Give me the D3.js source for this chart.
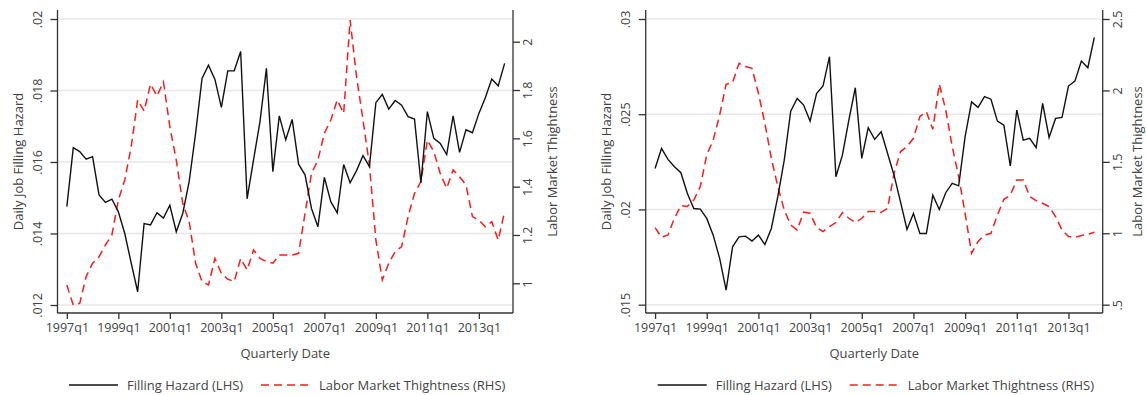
<!DOCTYPE html>
<html>
<head>
<meta charset="utf-8">
<script src="https://cdn.jsdelivr.net/npm/d3@7"></script>
<style>
  body { margin: 0; background: #fff; }
  svg text { font-family: "Open Sans", sans-serif; fill: #444; }
</style>
</head>
<body>
<svg id="chart" width="1146" height="395"></svg>
<script>
// quarter index 0 = 1997q1 ... 68 = 2014q1
const dateTicks = [0, 8, 16, 24, 32, 40, 48, 56, 64];
const dateLabels = ["1997q1", "1999q1", "2001q1", "2003q1", "2005q1", "2007q1", "2009q1", "2011q1", "2013q1"];

// left panel
const hazardA = [0.01475, 0.0164, 0.01629, 0.01608, 0.01615, 0.01508, 0.01487, 0.01496, 0.01461, 0.0140,
  0.01317, 0.01237, 0.01428, 0.01424, 0.01458, 0.01443, 0.01479, 0.01405, 0.01456, 0.01545,
  0.0168, 0.01834, 0.01871, 0.01831, 0.01753, 0.01855, 0.01855, 0.01909, 0.01497, 0.01606,
  0.01713, 0.01862, 0.01573, 0.01729, 0.01662, 0.01719, 0.01594, 0.01564, 0.0147, 0.01419,
  0.01557, 0.01489, 0.01458, 0.01593, 0.01542, 0.01576, 0.01618, 0.01587, 0.01766, 0.01789,
  0.01748, 0.01772, 0.01759, 0.01727, 0.0172, 0.01542, 0.01741, 0.01666, 0.01652, 0.01621,
  0.01729, 0.01627, 0.0169, 0.01682, 0.01736, 0.0178, 0.01832, 0.01813, 0.01876];
const tightA = [0.993, 0.91, 0.917, 1.028, 1.083, 1.11, 1.159, 1.2, 1.345, 1.428,
  1.566, 1.759, 1.713, 1.825, 1.775, 1.834, 1.648, 1.51, 1.331, 1.255,
  1.083, 1.007, 0.993, 1.103, 1.041, 1.017, 1.007, 1.103, 1.055, 1.138,
  1.103, 1.09, 1.083, 1.117, 1.117, 1.117, 1.124, 1.29, 1.455, 1.51,
  1.621, 1.676, 1.759, 1.703, 2.09, 1.855, 1.676, 1.49, 1.179, 1.014,
  1.083, 1.131, 1.152, 1.276, 1.372, 1.421, 1.593, 1.545, 1.455, 1.393,
  1.469, 1.441, 1.407, 1.276, 1.262, 1.234, 1.255, 1.179, 1.297];
const lhsTicksA = [0.012, 0.014, 0.016, 0.018, 0.02];
const rhsTicksA = [1, 1.2, 1.4, 1.6, 1.8, 2];

// right panel
const hazardB = [0.02215, 0.0232, 0.02263, 0.02224, 0.02193, 0.02084, 0.02005, 0.02002, 0.01953, 0.01865,
  0.01743, 0.01576, 0.01804, 0.01856, 0.0186, 0.01834, 0.01865, 0.01816, 0.019, 0.02067,
  0.02259, 0.02516, 0.02583, 0.02548, 0.02464, 0.02609, 0.02648, 0.02802, 0.02172, 0.02285,
  0.02469, 0.02639, 0.02268, 0.02429, 0.02368, 0.02408, 0.02294, 0.0218, 0.0204, 0.01895,
  0.01979, 0.01874, 0.01874, 0.02075, 0.02, 0.02088, 0.02137, 0.02124, 0.02382, 0.02565,
  0.02536, 0.02592, 0.02579, 0.02464, 0.02443, 0.02228, 0.02522, 0.02364, 0.02373, 0.02324,
  0.02557, 0.02378, 0.02478, 0.02483, 0.02648, 0.02674, 0.02779, 0.02744, 0.02903];
const tightB = [1.04, 0.972, 0.988, 1.105, 1.194, 1.187, 1.233, 1.327, 1.548, 1.653,
  1.828, 2.043, 2.055, 2.19, 2.167, 2.155, 1.98, 1.77, 1.525, 1.327,
  1.163, 1.058, 1.023, 1.149, 1.14, 1.04, 1.012, 1.047, 1.075, 1.145,
  1.105, 1.075, 1.105, 1.152, 1.152, 1.147, 1.175, 1.42, 1.572, 1.607,
  1.665, 1.817, 1.852, 1.728, 2.045, 1.863, 1.607, 1.397, 1.14, 0.86,
  0.942, 0.988, 1.0, 1.128, 1.238, 1.268, 1.373, 1.373, 1.257, 1.229,
  1.21, 1.187, 1.117, 1.023, 0.977, 0.972, 0.984, 0.993, 1.007];
const lhsTicksB = [0.015, 0.02, 0.025, 0.03];
const rhsTicksB = [0.5, 1, 1.5, 2, 2.5];

const svg = d3.select("#chart");
const plotTop = 10, plotBottom = 313;

// stata style: drop the leading zero
const fmt = d => String(d).replace(/^0\./, ".");

function rotateLabels(g, dx) {
  g.selectAll(".tick text")
    .attr("x", 0).attr("y", 0).attr("dy", "0.35em")
    .attr("text-anchor", "middle")
    .attr("transform", `translate(${dx},0) rotate(-90)`);
}

function drawPanel(p) {
  const x = d3.scaleLinear().domain([-1.45, 69.3]).range([p.left, p.right]);
  const yL = d3.scaleLinear().domain(p.lhsDomain).range(p.lhsRange);
  const yR = d3.scaleLinear().domain(p.rhsDomain).range(p.rhsRange);

  // gridlines from the left axis
  svg.append("g").selectAll("line")
    .data(p.lhsTicks)
    .enter()
    .append("line")
    .attr("x1", p.left).attr("x2", p.right)
    .attr("y1", d => yL(d)).attr("y2", d => yL(d))
    .attr("stroke", "#e8e8e8")
    .attr("stroke-width", 1.5);

  const gl = svg.append("g")
    .attr("transform", `translate(${p.left},0)`)
    .call(d3.axisLeft(yL).tickValues(p.lhsTicks).tickSize(7).tickFormat(fmt));
  rotateLabels(gl, -20);

  const gr = svg.append("g")
    .attr("transform", `translate(${p.right},0)`)
    .call(d3.axisRight(yR).tickValues(p.rhsTicks).tickSize(7).tickFormat(fmt));
  rotateLabels(gr, 15);

  const gx = svg.append("g")
    .attr("transform", `translate(0,${plotBottom})`)
    .call(d3.axisBottom(x).tickValues(dateTicks).tickSize(6).tickPadding(4)
      .tickFormat((d, i) => dateLabels[i]));

  [gl, gr, gx].forEach(g => {
    g.select(".domain").remove();
    g.selectAll(".tick line").attr("stroke", "#333").attr("stroke-width", 1.3);
    g.selectAll(".tick text").style("font-size", "12.5px").style("fill", "#444");
  });

  // axis lines
  svg.append("line").attr("x1", p.left).attr("x2", p.left).attr("y1", plotTop).attr("y2", plotBottom)
    .attr("stroke", "#333").attr("stroke-width", 1.3);
  svg.append("line").attr("x1", p.right).attr("x2", p.right).attr("y1", plotTop).attr("y2", plotBottom)
    .attr("stroke", "#333").attr("stroke-width", 1.3);
  svg.append("line").attr("x1", p.left).attr("x2", p.right).attr("y1", plotBottom).attr("y2", plotBottom)
    .attr("stroke", "#333").attr("stroke-width", 1.3);

  // titles
  const midY = (plotTop + plotBottom) / 2;
  svg.append("text")
    .attr("transform", `translate(${p.left - 39},${midY}) rotate(-90)`)
    .attr("dy", "0.35em").attr("text-anchor", "middle")
    .style("font-size", "13px")
    .text("Daily Job Filling Hazard");
  svg.append("text")
    .attr("transform", `translate(${p.rhsTitleX},${midY}) rotate(-90)`)
    .attr("dy", "0.35em").attr("text-anchor", "middle")
    .style("font-size", "13px")
    .text("Labor Market Thightness");
  svg.append("text")
    .attr("x", (p.left + p.right) / 2).attr("y", 357.5)
    .attr("text-anchor", "middle")
    .style("font-size", "13px")
    .text("Quarterly Date");

  // series
  const lineL = d3.line().x((d, i) => x(i)).y(d => yL(d));
  const lineR = d3.line().x((d, i) => x(i)).y(d => yR(d));

  svg.append("path")
    .datum(p.rhs)
    .attr("d", lineR)
    .attr("fill", "none")
    .attr("stroke", "#ff1a1a")
    .attr("stroke-width", 1.5)
    .attr("stroke-dasharray", "8,5");

  svg.append("path")
    .datum(p.lhs)
    .attr("d", lineL)
    .attr("fill", "none")
    .attr("stroke", "#111")
    .attr("stroke-width", 1.4);

  // legend
  const lx = p.legendX, ly = 385;
  svg.append("line").attr("x1", lx).attr("x2", lx + 49).attr("y1", ly).attr("y2", ly)
    .attr("stroke", "#111").attr("stroke-width", 1.4);
  svg.append("text").attr("x", lx + 58).attr("y", ly).attr("dy", "0.35em")
    .style("font-size", "13px").text("Filling Hazard (LHS)");
  svg.append("line").attr("x1", lx + 192).attr("x2", lx + 241).attr("y1", ly).attr("y2", ly)
    .attr("stroke", "#ff1a1a").attr("stroke-width", 1.5).attr("stroke-dasharray", "8,5");
  svg.append("text").attr("x", lx + 250).attr("y", ly).attr("dy", "0.35em")
    .style("font-size", "13px").text("Labor Market Thightness (RHS)");
}

drawPanel({
  left: 57.5, right: 513, legendX: 69, rhsTitleX: 552,
  lhs: hazardA, rhs: tightA, lhsTicks: lhsTicksA, rhsTicks: rhsTicksA,
  lhsDomain: [0.012, 0.02], lhsRange: [305, 19],
  rhsDomain: [1, 2], rhsRange: [283.3, 41.7]
});

drawPanel({
  left: 645.7, right: 1102.7, legendX: 657.7, rhsTitleX: 1137.5,
  lhs: hazardB, rhs: tightB, lhsTicks: lhsTicksB, rhsTicks: rhsTicksB,
  lhsDomain: [0.015, 0.03], lhsRange: [304.7, 19],
  rhsDomain: [0.5, 2.5], rhsRange: [304.7, 19]
});
</script>
</body>
</html>
